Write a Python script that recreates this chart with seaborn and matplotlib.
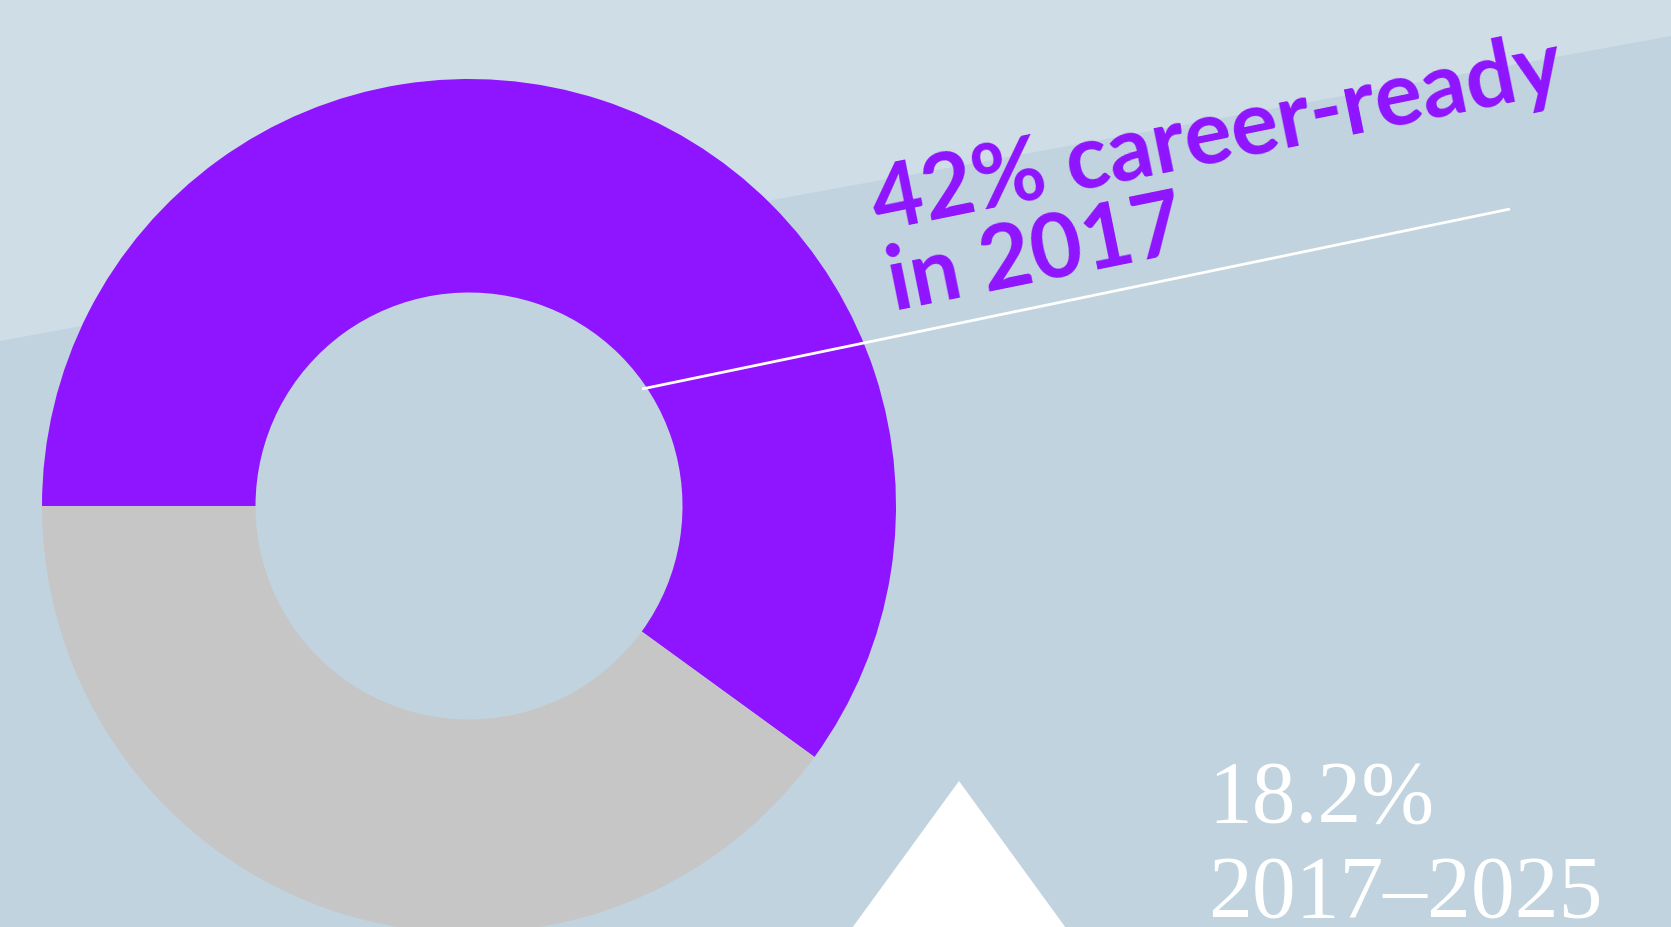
import matplotlib
matplotlib.use("Agg")
import matplotlib.pyplot as plt
from matplotlib.patches import Polygon
import seaborn as sns

# data
segments = ["career-ready", "other"]
shares = [60, 40]
headline = "42% career-ready"
headline_year = "in 2017"
growth_value = "18.2%"
growth_period = "2017\u20132025"

sns.set_style("white")
plt.rcParams["font.family"] = ["Lato", "DejaVu Sans"]

purple = "#8f14ff"
grey = "#c6c6c6"
bg_low = "#c1d3de"
bg_high = "#cfdde6"

W, H = 1671, 927
fig = plt.figure(figsize=(W / 100, H / 100), dpi=100)
fig.patch.set_facecolor(bg_low)

# background with the lighter slanted band on top (pixel coordinates)
ax_bg = fig.add_axes([0, 0, 1, 1], zorder=0)
ax_bg.set_xlim(0, W)
ax_bg.set_ylim(H, 0)
ax_bg.axis("off")
ax_bg.add_patch(Polygon([(0, 0), (W, 0), (W, 36), (0, 341)], closed=True,
                        facecolor=bg_high, edgecolor="none"))

# donut: centre (469, 506) px, outer radius 427 px
cx, cy, R = 469, 506, 427
ax_pie = fig.add_axes([(cx - R) / W, (H - cy - R) / H, 2 * R / W, 2 * R / H], zorder=1)
ax_pie.pie(shares, colors=[purple, grey], startangle=180, counterclock=False,
           wedgeprops=dict(width=0.5, edgecolor="none", linewidth=0))
ax_pie.set_xlim(-1, 1)
ax_pie.set_ylim(-1, 1)
ax_pie.set_aspect("auto")
ax_pie.patch.set_alpha(0)
ax_pie.axis("off")

# overlay: leader line, arrow, labels
ax = fig.add_axes([0, 0, 1, 1], zorder=2)
ax.set_xlim(0, W)
ax.set_ylim(H, 0)
ax.axis("off")
ax.patch.set_alpha(0)

ax.plot([642, 1510], [389, 209], color="white", lw=2, solid_capstyle="butt")

ax.add_patch(Polygon([(959, 781), (959 - 160, 1001), (959 + 160, 1001)], closed=True,
                     facecolor="white", edgecolor="none"))

rot = 11.5
ax.text(878, 231, headline, color=purple, fontsize=64, fontweight="bold",
        rotation=rot, rotation_mode="anchor", ha="left", va="baseline")
ax.text(894, 311, headline_year, color=purple, fontsize=64, fontweight="bold",
        rotation=rot, rotation_mode="anchor", ha="left", va="baseline")

ax.text(1208, 822, growth_value, color="white", fontsize=63,
        family=["Liberation Serif", "DejaVu Serif"], ha="left", va="baseline")
ax.text(1208, 917, growth_period, color="white", fontsize=63,
        family=["Liberation Serif", "DejaVu Serif"], ha="left", va="baseline")

fig.savefig("out.png", dpi=100, facecolor=fig.get_facecolor())
